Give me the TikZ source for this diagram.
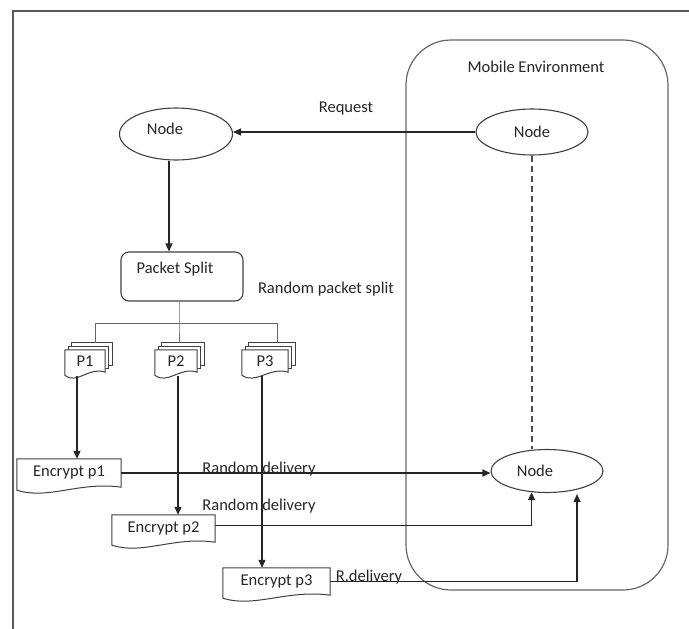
\documentclass[tikz,border=0pt]{standalone}
\usepackage{fontspec}
\setmainfont{Carlito}
\usetikzlibrary{arrows.meta,shapes.geometric,calc,backgrounds}
\newcommand\docoutline[1]{%
  \draw[docln] (#1.north west) -- (#1.north east) -- (#1.south east)
    .. controls ($(#1.south east)!0.4!(#1.south west)+(0,-6)$) and ($(#1.south east)!0.7!(#1.south west)+(0,13)$) .. ($(#1.south west)+(0,3)$) -- cycle;}
\begin{document}
\begin{tikzpicture}[x=1pt,y=-1pt,
  font=\fontsize{16.5}{19}\selectfont, text=black!85,
  ln/.style={line width=1.3pt, draw=black!85},
  arr/.style={ln, -{Triangle[length=8pt,width=7pt]}},
  thinln/.style={line width=1pt, draw=black!60},
  docln/.style={line width=1pt, draw=black!75, fill=white},
  ell/.style={ellipse, draw=black!75, line width=1.1pt, inner sep=0pt},
  dbox/.style={rectangle, inner sep=0pt},
  lbl/.style={inner sep=1pt}]
\useasboundingbox (0,0) rectangle (689,629);
% frame
\draw[line width=2pt, black!65] (13,629) -- (13,11) -- (689,11);
% mobile environment
\draw[line width=1.2pt, black!60, rounded corners=45pt] (406,40) rectangle (668,590);
\node[lbl] (menv) at (536,67) {Mobile Environment};

% ellipses
\node[ell, minimum width=113pt, minimum height=52pt, label={[xshift=-11pt,yshift=5pt]center:Node}] (nl) at (176,134) {};
\node[ell, minimum width=112pt, minimum height=46pt] (nr) at (532,132) {Node};
\node[ell, minimum width=112pt, minimum height=43pt, label={[xshift=-12pt]center:Node}] (nb) at (547,471) {};

% packet split
\node[rectangle, draw=black!75, line width=1.1pt, rounded corners=8pt, minimum width=122pt, minimum height=49pt] (ps) at (182,276.5) {};
\node[lbl] (pst) at (175,269) {Packet Split};
\node[lbl] (rps) at (326,289) {Random packet split};

% stacked packets
\node[dbox, minimum width=40pt, minimum height=22pt] (P1) at (85,361) {P1};
\node[dbox, minimum width=42pt, minimum height=22pt] (P2) at (176,361) {P2};
\node[dbox, minimum width=46pt, minimum height=22pt] (P3) at (265,361) {P3};
\begin{pgfonlayer}{background}
\foreach \p in {P1,P2,P3}{
  \draw[docln] ($(\p.north west)+(7,-7)$) rectangle ($(\p.south east)+(7,-7)$);
  \draw[docln] ($(\p.north west)+(3.5,-3.5)$) rectangle ($(\p.south east)+(3.5,-3.5)$);
  \docoutline{\p}
}
\end{pgfonlayer}
\coordinate (barL) at (95,323);
\coordinate (barR) at (277,323);
\coordinate (barM) at (179,323);
\coordinate (P1top) at ($(P1.north)+(10,-7)$);
\coordinate (P2top) at ($(P2.north)+(3,-7)$);
\coordinate (P3top) at ($(P3.north)+(12,-7)$);

% encrypt docs
\node[dbox, minimum width=104pt, minimum height=28pt] (e1) at (69,473) {Encrypt p1};
\node[dbox, minimum width=103pt, minimum height=27pt] (e2) at (163.5,528.5) {Encrypt p2};
\node[dbox, minimum width=107pt, minimum height=27pt] (e3) at (276.5,581.5) {Encrypt p3};
\begin{pgfonlayer}{background}
\foreach \p in {e1,e2,e3}{\docoutline{\p}}
\end{pgfonlayer}
\coordinate (p1o) at ($(P1.south)+(-8,4)$);
\coordinate (p2o) at ($(P2.south)+(2,4)$);
\coordinate (p3o) at ($(P3.south)+(-3,4)$);
\coordinate (e2o) at ($(e2.east)+(0,-3)$);
\coordinate (nbin) at ($(nb.south)+(30,1)$);

% labels
\node[lbl] (req) at (346,109) {Request};
\node[lbl] (rd1) at (259,469) {Random delivery};
\node[lbl] (rd2) at (259,506) {Random delivery};
\node[lbl] (rd3) at (369,577) {R.delivery};

% connectors
\draw[arr] (nr.west) -- (nr.west -| nl.east);
\draw[line width=1.2pt, black!70, dash pattern=on 6pt off 4pt] (nr.south) -- (nr.south |- nb.north);
\draw[arr] ([xshift=-7pt]nl.south) -- ([xshift=-7pt]nl.south |- ps.north);
\draw[thinln] ([xshift=-3pt]ps.south) -- (barM) -- (barM |- P2top);
\draw[thinln] (barL) -- (barR);
\draw[thinln] (barL) -- (barL |- P1top);
\draw[thinln] (barR) -- (barR |- P3top);
\draw[arr] (p1o) -- (p1o |- e1.north);
\draw[arr] (p2o) -- (p2o |- e2.north);
\draw[arr] (p3o) -- (p3o |- e3.north);
\draw[arr] (e1.east) -- (e1.east -| nb.west);
\draw[arr] (e2o) -| (nb.234);
\draw[arr] (e3.east) -| (nbin);
\end{tikzpicture}
\end{document}
